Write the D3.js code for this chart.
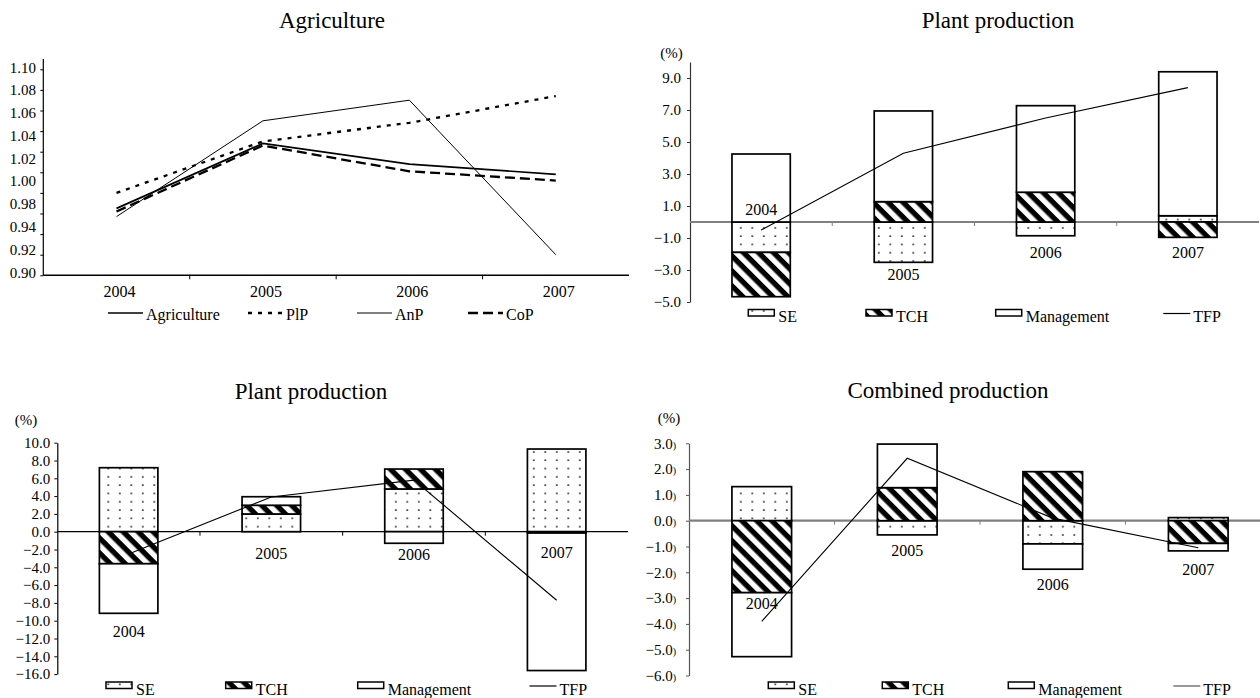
<!DOCTYPE html>
<html>
<head>
<meta charset="utf-8">
<script src="https://cdn.jsdelivr.net/npm/d3@7"></script>
<style>
  body { margin: 0; background: #fff; }
  svg text { font-family: "Liberation Serif", "Times New Roman", serif; fill: #000; }
</style>
</head>
<body>
<svg id="chart" width="1260" height="698"></svg>
<script>
// ---- data ----
const years = ["2004", "2005", "2006", "2007"];

// Agriculture (index values)
const agriculture = [0.965, 1.028, 1.008, 0.998];
const plp = [0.980, 1.030, 1.048, 1.074];
const anp = [0.957, 1.050, 1.070, 0.920];
const cop = [0.962, 1.026, 1.001, 0.992];
const agriTicks = [0.90, 0.92, 0.94, 0.96, 0.98, 1.00, 1.02, 1.04, 1.06, 1.08, 1.10];
const agriTickLabels = ["1.10", "1.08", "1.06", "1.04", "1.02", "1.00", "0.98", "0.94", "0.92", "0.90"];

// Plant production (top right), %
const plantTopSE = [-1.90, -2.52, -0.86, 0.39];
const plantTopTCH = [-2.77, 1.27, 1.86, -0.96];
const plantTopMgmt = [4.25, 5.67, 5.41, 9.00];
const plantTopTFP = [-0.5, 4.3, 6.5, 8.4];
const plantTopTicks = [-5, -3, -1, 1, 3, 5, 7, 9];

// Plant production (bottom left), %
const plantBotSE = [7.19, 1.99, 4.80, 9.29];
const plantBotTCH = [-3.60, 0.98, 2.24, -0.15];
const plantBotMgmt = [-5.57, 0.96, -1.30, -15.45];
const plantBotTFP = [-2.5, 3.9, 5.8, -7.7];
const plantBotTicks = [10, 8, 6, 4, 2, 0, -2, -4, -6, -8, -10, -12, -14, -16];

// Combined production, %
const combSE = [1.32, -0.55, -0.90, 0.12];
const combTCH = [-2.79, 1.28, 1.90, -0.88];
const combMgmt = [-2.48, 1.69, -0.98, -0.29];
const combTFP = [-3.9, 2.42, 0.1, -1.05];
const combTicks = [3, 2, 1, 0, -1, -2, -3, -4, -5, -6];

const FONT = '"Liberation Serif", "Times New Roman", serif';
const svg = d3.select("#chart");
svg.append("rect").attr("width", 1260).attr("height", 698).attr("fill", "#fff");

// patterns
const defs = svg.append("defs");
const dots = defs.append("pattern").attr("id", "dots")
  .attr("patternUnits", "userSpaceOnUse").attr("width", 11.5).attr("height", 8.3);
dots.append("rect").attr("width", 11.5).attr("height", 8.3).attr("fill", "#fff");
dots.append("rect").attr("x", 4).attr("y", 3).attr("width", 1.6).attr("height", 1.6).attr("fill", "#222");

const stripes = defs.append("pattern").attr("id", "stripes")
  .attr("patternUnits", "userSpaceOnUse").attr("width", 10.6).attr("height", 10.6)
  .attr("patternTransform", "rotate(45)");
stripes.append("rect").attr("width", 10.6).attr("height", 10.6).attr("fill", "#fff");
stripes.append("rect").attr("width", 10.6).attr("height", 5.3).attr("fill", "#000");

const fills = { SE: "url(#dots)", TCH: "url(#stripes)", Management: "#fff" };
const keys = ["SE", "TCH", "Management"];

function txt(g, size) {
  return g.append("text").style("font-family", FONT).style("font-size", size + "px");
}

// ---- Agriculture panel ----
(function () {
  const g = svg.append("g");
  const x = d3.scaleBand().domain(years).range([43.3, 629]);
  const y = d3.scaleLinear().domain([0.90, 1.10]).range([275.3, 69.3]);
  const cx = d => x(d) + x.bandwidth() / 2;

  txt(g, 23).attr("x", 332).attr("y", 28).attr("text-anchor", "middle").text("Agriculture");

  const ax = g.append("g").attr("transform", "translate(43.3,0)")
    .call(d3.axisLeft(y).tickValues(agriTicks).tickFormat("").tickSize(3).tickSizeOuter(0));
  ax.select(".domain").remove();
  g.append("line").attr("x1", 43.3).attr("x2", 43.3).attr("y1", y(0.90)).attr("y2", 59)
    .attr("stroke", "#000").attr("stroke-width", 1.2);

  // the printed labels are spread evenly along the axis (one value is missing in the source)
  const lab = d3.scalePoint().domain(agriTickLabels).range([y(1.10) - 2, y(0.90) - 3]);
  g.selectAll(".ylab").data(agriTickLabels).join("text")
    .style("font-family", FONT).style("font-size", "15px")
    .attr("x", 36).attr("y", d => lab(d)).attr("dy", "0.35em")
    .attr("text-anchor", "end").text(d => d);

  g.append("line").attr("x1", 43.3).attr("x2", 629).attr("y1", y(0.90)).attr("y2", y(0.90))
    .attr("stroke", "#000").attr("stroke-width", 1.5);
  g.selectAll(".xt").data(years.slice(1)).join("line")
    .attr("x1", d => x(d)).attr("x2", d => x(d)).attr("y1", y(0.90)).attr("y2", y(0.90) + 4)
    .attr("stroke", "#000");
  g.selectAll(".xl").data(years).join("text")
    .style("font-family", FONT).style("font-size", "16px")
    .attr("x", d => cx(d) + 3).attr("y", 291).attr("dy", "0.35em")
    .attr("text-anchor", "middle").text(d => d);

  const line = d3.line().x((d, i) => cx(years[i])).y(d => y(d));
  const series = [
    { name: "Agriculture", values: agriculture, width: 1.7, dash: null, lx: 108 },
    { name: "PlP", values: plp, width: 2.3, dash: "4,6", lx: 248 },
    { name: "AnP", values: anp, width: 1, dash: null, lx: 357 },
    { name: "CoP", values: cop, width: 2.3, dash: "10,5", lx: 468 }
  ];
  series.forEach(s => {
    g.append("path").datum(s.values).attr("d", line)
      .attr("fill", "none").attr("stroke", "#000").attr("stroke-width", s.width)
      .attr("stroke-dasharray", s.dash);
    g.append("line").attr("x1", s.lx).attr("x2", s.lx + 35).attr("y1", 313).attr("y2", 313)
      .attr("stroke", "#000").attr("stroke-width", s.width).attr("stroke-dasharray", s.dash);
    txt(g, 16).attr("x", s.lx + 38).attr("y", 314).attr("dy", "0.35em").text(s.name);
  });
})();

// ---- stacked bar panels ----
function barPanel(cfg) {
  const g = svg.append("g");
  const x = d3.scaleBand().domain(years).range(cfg.xRange);
  const y = d3.scaleLinear().domain(cfg.yDomain).range(cfg.yRange);
  const bw = x.bandwidth() * 0.41;
  const cx = d => x(d) + x.bandwidth() / 2;

  txt(g, 23).attr("x", cfg.titleX).attr("y", cfg.titleY).attr("text-anchor", "middle").text(cfg.title);
  txt(g, 15).attr("x", cfg.pct[0]).attr("y", cfg.pct[1]).attr("dy", "0.35em")
    .attr("text-anchor", "middle").text("(%)");

  const ax = g.append("g").attr("transform", `translate(${cfg.xRange[0]},0)`)
    .call(d3.axisLeft(y).tickValues(cfg.ticks).tickFormat(d3.format(".1f")).tickSize(3).tickSizeOuter(0));
  ax.attr("font-family", FONT);
  ax.select(".domain").attr("stroke", cfg.axisColor).attr("stroke-width", 1.2);
  ax.selectAll(".tick line").attr("stroke", cfg.axisColor);
  ax.selectAll(".tick text").attr("x", -cfg.labelGap)
    .style("font-family", FONT).style("font-size", "15px").attr("fill", "#000");
  if (cfg.suffix) {
    ax.selectAll(".tick text").append("tspan").style("font-size", "10px").text(cfg.suffix);
  }

  // zero line and category ticks
  g.append("line").attr("x1", cfg.xRange[0]).attr("x2", Math.min(cfg.xRange[1], 1260))
    .attr("y1", y(0)).attr("y2", y(0))
    .attr("stroke", cfg.zeroColor).attr("stroke-width", cfg.zeroWidth);
  g.selectAll(".xt").data(years.slice(1)).join("line")
    .attr("x1", d => x(d)).attr("x2", d => x(d)).attr("y1", y(0)).attr("y2", y(0) + 4)
    .attr("stroke", cfg.zeroColor);

  const rows = years.map((yr, i) => ({ year: yr, SE: cfg.se[i], TCH: cfg.tch[i], Management: cfg.mgmt[i] }));
  const stacked = d3.stack().keys(keys).offset(d3.stackOffsetDiverging)(rows);
  g.selectAll("g.layer").data(stacked).join("g").attr("class", "layer")
    .attr("fill", d => fills[d.key])
    .selectAll("rect").data(d => d.filter(v => v[0] !== v[1])).join("rect")
    .attr("x", d => cx(d.data.year) - bw / 2).attr("width", bw)
    .attr("y", d => y(Math.max(d[0], d[1])))
    .attr("height", d => Math.abs(y(d[0]) - y(d[1])))
    .attr("stroke", "#000").attr("stroke-width", 1.7);

  g.append("path").datum(cfg.tfp)
    .attr("d", d3.line().x((d, i) => cx(years[i])).y(d => y(d)))
    .attr("fill", "none").attr("stroke", "#000").attr("stroke-width", 1.1);

  g.selectAll(".yl").data(years).join("text")
    .style("font-family", FONT).style("font-size", "16px")
    .attr("x", d => cx(d)).attr("y", (d, i) => y(cfg.labelAt[i])).attr("dy", "0.35em")
    .attr("text-anchor", "middle").text(d => d);

  // legend
  const ly = cfg.legendY;
  const items = ["SE", "TCH", "Management", "TFP"];
  items.forEach((k, i) => {
    const lx = cfg.legendX[i];
    if (k === "TFP") {
      g.append("line").attr("x1", lx).attr("x2", lx + 27).attr("y1", ly - 3).attr("y2", ly - 3)
        .attr("stroke", cfg.tfpLegendColor).attr("stroke-width", 1.2);
    } else {
      g.append("rect").attr("x", lx).attr("y", ly - 7).attr("width", 26).attr("height", 6.5)
        .attr("fill", fills[k]).attr("stroke", "#000").attr("stroke-width", 1.5);
    }
    txt(g, 16).attr("x", lx + 30).attr("y", ly).attr("dy", "0.35em").text(k);
  });
}

barPanel({
  title: "Plant production", titleX: 998, titleY: 28, pct: [671.5, 53],
  xRange: [690, 1259], yDomain: [-5, 10], yRange: [302, 62],
  ticks: plantTopTicks, labelGap: 9, axisColor: "#333",
  zeroColor: "#808080", zeroWidth: 2,
  se: plantTopSE, tch: plantTopTCH, mgmt: plantTopMgmt, tfp: plantTopTFP,
  labelAt: [0.81, -3.25, -1.92, -1.9],
  legendY: 316.5, legendX: [748.3, 866, 995.7, 1163.3], tfpLegendColor: "#000"
});

barPanel({
  title: "Plant production", titleX: 311, titleY: 399, pct: [26, 420],
  xRange: [57.3, 628], yDomain: [-16, 10], yRange: [674.1, 442.7],
  ticks: plantBotTicks, labelGap: 7, axisColor: "#000",
  zeroColor: "#000", zeroWidth: 1.2,
  se: plantBotSE, tch: plantBotTCH, mgmt: plantBotMgmt, tfp: plantBotTFP,
  labelAt: [-11.24, -2.43, -2.5, -2.36],
  legendY: 689, legendX: [106, 225.7, 357.7, 529.5], tfpLegendColor: "#000"
});

barPanel({
  title: "Combined production", titleX: 948, titleY: 398, pct: [669, 418],
  xRange: [689, 1271], yDomain: [-6, 3], yRange: [675.5, 443.3],
  ticks: combTicks, labelGap: 13, axisColor: "#555", suffix: ")",
  zeroColor: "#7f7f7f", zeroWidth: 2.2,
  se: combSE, tch: combTCH, mgmt: combMgmt, tfp: combTFP,
  labelAt: [-3.2, -1.16, -2.45, -1.88],
  legendY: 689, legendX: [768.3, 882.3, 1008.3, 1173.3], tfpLegendColor: "#555"
});
</script>
</body>
</html>
